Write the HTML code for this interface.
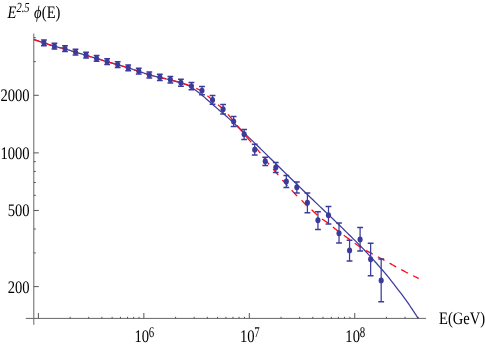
<!DOCTYPE html>
<html><head><meta charset="utf-8"><title>plot</title>
<style>html,body{margin:0;padding:0;background:#fff;}body{width:485px;height:346px;overflow:hidden;font-family:"Liberation Serif",serif;}</style>
</head><body>
<svg width="485" height="346" viewBox="0 0 485 346" style="display:block;will-change:transform">
<rect width="485" height="346" fill="#fff"/>
<g stroke="#666666" stroke-width="1.0" fill="none">
<line x1="33.8" y1="33.6" x2="33.8" y2="324.8"/>
<line x1="25.8" y1="318.4" x2="426.0" y2="318.4"/>
</g>
<g stroke="#444444" stroke-width="0.9" fill="none">
<line x1="38.40" y1="313.0" x2="38.40" y2="318.4"/>
<line x1="143.85" y1="313.0" x2="143.85" y2="318.4"/>
<line x1="249.30" y1="313.0" x2="249.30" y2="318.4"/>
<line x1="354.75" y1="313.0" x2="354.75" y2="318.4"/>
<line x1="33.8" y1="95.30" x2="38.8" y2="95.30"/>
<line x1="33.8" y1="152.89" x2="38.8" y2="152.89"/>
<line x1="33.8" y1="210.47" x2="38.8" y2="210.47"/>
<line x1="33.8" y1="286.60" x2="38.8" y2="286.60"/>
</g>
<g stroke="#444444" stroke-width="0.9" fill="none">
<line x1="70.14" y1="316.8" x2="70.14" y2="318.4"/>
<line x1="88.71" y1="316.8" x2="88.71" y2="318.4"/>
<line x1="101.89" y1="316.8" x2="101.89" y2="318.4"/>
<line x1="112.11" y1="316.8" x2="112.11" y2="318.4"/>
<line x1="120.46" y1="316.8" x2="120.46" y2="318.4"/>
<line x1="127.52" y1="316.8" x2="127.52" y2="318.4"/>
<line x1="133.63" y1="316.8" x2="133.63" y2="318.4"/>
<line x1="139.02" y1="316.8" x2="139.02" y2="318.4"/>
<line x1="175.59" y1="316.8" x2="175.59" y2="318.4"/>
<line x1="194.16" y1="316.8" x2="194.16" y2="318.4"/>
<line x1="207.34" y1="316.8" x2="207.34" y2="318.4"/>
<line x1="217.56" y1="316.8" x2="217.56" y2="318.4"/>
<line x1="225.91" y1="316.8" x2="225.91" y2="318.4"/>
<line x1="232.97" y1="316.8" x2="232.97" y2="318.4"/>
<line x1="239.08" y1="316.8" x2="239.08" y2="318.4"/>
<line x1="244.47" y1="316.8" x2="244.47" y2="318.4"/>
<line x1="281.04" y1="316.8" x2="281.04" y2="318.4"/>
<line x1="299.61" y1="316.8" x2="299.61" y2="318.4"/>
<line x1="312.79" y1="316.8" x2="312.79" y2="318.4"/>
<line x1="323.01" y1="316.8" x2="323.01" y2="318.4"/>
<line x1="331.36" y1="316.8" x2="331.36" y2="318.4"/>
<line x1="338.42" y1="316.8" x2="338.42" y2="318.4"/>
<line x1="344.53" y1="316.8" x2="344.53" y2="318.4"/>
<line x1="349.92" y1="316.8" x2="349.92" y2="318.4"/>
<line x1="386.49" y1="316.8" x2="386.49" y2="318.4"/>
<line x1="405.06" y1="316.8" x2="405.06" y2="318.4"/>
<line x1="418.24" y1="316.8" x2="418.24" y2="318.4"/>
<line x1="33.8" y1="37.71" x2="35.8" y2="37.71"/>
<line x1="33.8" y1="61.61" x2="35.8" y2="61.61"/>
<line x1="33.8" y1="161.64" x2="35.8" y2="161.64"/>
<line x1="33.8" y1="171.43" x2="35.8" y2="171.43"/>
<line x1="33.8" y1="182.52" x2="35.8" y2="182.52"/>
<line x1="33.8" y1="195.33" x2="35.8" y2="195.33"/>
<line x1="33.8" y1="229.01" x2="35.8" y2="229.01"/>
<line x1="33.8" y1="252.91" x2="35.8" y2="252.91"/>
</g>
<path d="M33.80 39.50 L34.28 39.66 L34.87 39.86 L35.56 40.09 L36.34 40.35 L37.19 40.64 L38.09 40.94 L39.02 41.25 L39.98 41.57 L40.94 41.89 L41.89 42.21 L42.82 42.51 L43.70 42.80 L44.56 43.08 L45.43 43.37 L46.30 43.66 L47.19 43.95 L48.07 44.25 L48.96 44.54 L49.85 44.83 L50.75 45.11 L51.64 45.40 L52.53 45.67 L53.42 45.94 L54.30 46.20 L55.18 46.45 L56.06 46.68 L56.93 46.91 L57.81 47.13 L58.68 47.35 L59.56 47.56 L60.43 47.78 L61.30 47.99 L62.18 48.21 L63.05 48.43 L63.93 48.66 L64.80 48.90 L65.67 49.15 L66.55 49.41 L67.42 49.67 L68.30 49.93 L69.17 50.20 L70.05 50.47 L70.92 50.75 L71.80 51.02 L72.67 51.30 L73.55 51.57 L74.42 51.84 L75.30 52.10 L76.17 52.36 L77.05 52.62 L77.92 52.88 L78.80 53.14 L79.67 53.39 L80.55 53.65 L81.42 53.91 L82.30 54.16 L83.17 54.42 L84.05 54.68 L84.92 54.94 L85.80 55.20 L86.67 55.46 L87.55 55.73 L88.42 55.99 L89.30 56.26 L90.17 56.53 L91.04 56.79 L91.92 57.06 L92.79 57.33 L93.67 57.60 L94.54 57.87 L95.42 58.13 L96.30 58.40 L97.18 58.67 L98.06 58.93 L98.95 59.20 L99.83 59.47 L100.71 59.74 L101.60 60.01 L102.49 60.27 L103.37 60.54 L104.25 60.81 L105.14 61.07 L106.02 61.34 L106.90 61.60 L107.78 61.86 L108.66 62.12 L109.53 62.38 L110.41 62.64 L111.28 62.90 L112.16 63.16 L113.03 63.41 L113.90 63.67 L114.78 63.93 L115.65 64.18 L116.53 64.44 L117.40 64.70 L118.28 64.96 L119.15 65.21 L120.03 65.47 L120.90 65.72 L121.78 65.98 L122.65 66.23 L123.53 66.49 L124.40 66.74 L125.28 67.00 L126.15 67.27 L127.03 67.53 L127.90 67.80 L128.77 68.07 L129.65 68.35 L130.52 68.63 L131.40 68.91 L132.27 69.19 L133.14 69.47 L134.02 69.76 L134.89 70.05 L135.77 70.34 L136.64 70.62 L137.52 70.91 L138.40 71.20 L139.28 71.49 L140.16 71.79 L141.05 72.08 L141.93 72.39 L142.81 72.69 L143.70 72.99 L144.59 73.29 L145.47 73.58 L146.35 73.87 L147.24 74.16 L148.12 74.43 L149.00 74.70 L149.88 74.96 L150.76 75.21 L151.63 75.46 L152.51 75.70 L153.38 75.94 L154.26 76.18 L155.13 76.40 L156.00 76.63 L156.88 76.85 L157.75 77.07 L158.63 77.29 L159.50 77.50 L160.37 77.71 L161.25 77.90 L162.12 78.09 L163.00 78.28 L163.87 78.46 L164.74 78.64 L165.62 78.82 L166.49 79.00 L167.37 79.19 L168.24 79.38 L169.12 79.59 L170.00 79.80 L170.89 80.03 L171.81 80.27 L172.74 80.52 L173.68 80.78 L174.62 81.04 L175.56 81.31 L176.48 81.57 L177.37 81.83 L178.24 82.09 L179.08 82.34 L179.86 82.58 L180.60 82.80 L181.29 83.01 L181.94 83.22 L182.55 83.41 L183.13 83.60 L183.69 83.78 L184.21 83.96 L184.72 84.14 L185.20 84.31 L185.67 84.48 L186.12 84.65 L186.56 84.83 L187.00 85.00 L187.42 85.17 L187.81 85.34 L188.19 85.51 L188.54 85.67 L188.88 85.84 L189.20 86.00 L189.51 86.16 L189.81 86.33 L190.11 86.49 L190.41 86.66 L190.70 86.83 L191.00 87.00 L191.28 87.16 L191.53 87.31 L191.75 87.45 L191.96 87.58 L192.16 87.72 L192.37 87.86 L192.59 88.01 L192.83 88.19 L193.10 88.39 L193.42 88.62 L193.78 88.89 L194.20 89.20 L194.68 89.55 L195.19 89.93 L195.75 90.34 L196.33 90.77 L196.95 91.23 L197.60 91.72 L198.27 92.23 L198.97 92.76 L199.68 93.31 L200.41 93.89 L201.15 94.48 L201.90 95.10 L202.67 95.75 L203.47 96.43 L204.31 97.15 L205.16 97.90 L206.03 98.66 L206.92 99.45 L207.82 100.25 L208.72 101.05 L209.62 101.85 L210.52 102.65 L211.42 103.43 L212.30 104.20 L213.18 104.97 L214.09 105.74 L215.00 106.52 L215.92 107.31 L216.84 108.10 L217.76 108.88 L218.66 109.66 L219.56 110.42 L220.44 111.17 L221.29 111.90 L222.11 112.62 L222.90 113.30 L223.60 113.90 L224.16 114.38 L224.64 114.78 L225.07 115.13 L225.47 115.47 L225.89 115.82 L226.37 116.23 L226.93 116.73 L227.62 117.35 L228.47 118.13 L229.52 119.10 L230.80 120.30 L232.33 121.74 L234.08 123.39 L236.02 125.22 L238.11 127.21 L240.34 129.32 L242.65 131.53 L245.03 133.79 L247.43 136.09 L249.83 138.39 L252.20 140.66 L254.50 142.87 L256.70 145.00 L258.82 147.06 L260.91 149.09 L262.98 151.12 L265.04 153.13 L267.09 155.15 L269.15 157.18 L271.23 159.23 L273.33 161.30 L275.47 163.41 L277.65 165.55 L279.89 167.75 L282.20 170.00 L284.59 172.33 L287.06 174.73 L289.59 177.20 L292.18 179.72 L294.81 182.27 L297.45 184.84 L300.10 187.41 L302.74 189.97 L305.36 192.50 L307.93 195.00 L310.45 197.43 L312.90 199.80 L315.29 202.11 L317.66 204.37 L319.99 206.61 L322.30 208.81 L324.59 210.99 L326.85 213.15 L329.09 215.29 L331.31 217.41 L333.51 219.52 L335.69 221.61 L337.85 223.71 L340.00 225.80 L342.15 227.90 L344.30 230.00 L346.44 232.10 L348.57 234.20 L350.69 236.28 L352.77 238.34 L354.83 240.38 L356.84 242.39 L358.80 244.36 L360.70 246.29 L362.54 248.17 L364.30 250.00 L366.01 251.79 L367.67 253.57 L369.30 255.32 L370.88 257.05 L372.41 258.74 L373.88 260.38 L375.30 261.97 L376.66 263.51 L377.95 264.97 L379.17 266.37 L380.32 267.68 L381.40 268.90 L382.37 270.00 L383.22 270.97 L383.97 271.84 L384.63 272.61 L385.23 273.32 L385.79 273.98 L386.31 274.62 L386.83 275.26 L387.36 275.91 L387.92 276.60 L388.53 277.36 L389.20 278.20 L389.93 279.11 L390.69 280.08 L391.48 281.08 L392.28 282.10 L393.09 283.15 L393.91 284.21 L394.72 285.26 L395.52 286.31 L396.31 287.33 L397.07 288.33 L397.80 289.29 L398.50 290.20 L399.16 291.06 L399.79 291.90 L400.41 292.70 L401.00 293.47 L401.57 294.23 L402.13 294.97 L402.68 295.71 L403.23 296.44 L403.77 297.17 L404.31 297.90 L404.85 298.64 L405.40 299.40 L405.95 300.17 L406.50 300.93 L407.04 301.69 L407.57 302.45 L408.11 303.21 L408.64 303.97 L409.17 304.73 L409.69 305.50 L410.22 306.26 L410.74 307.04 L411.27 307.82 L411.80 308.60 L412.35 309.42 L412.93 310.30 L413.53 311.22 L414.14 312.16 L414.75 313.10 L415.35 314.03 L415.93 314.92 L416.47 315.77 L416.97 316.55 L417.42 317.24 L417.80 317.83 L418.10 318.30" fill="none" stroke="#3b3b9c" stroke-width="1.25" stroke-linejoin="round"/>
<g fill="none" stroke="#fb0c18" stroke-width="1.3">
<path d="M33.90 39.53 L34.28 39.66 L34.87 39.86 L35.56 40.09 L36.34 40.35 L37.19 40.64 L38.09 40.94 L39.02 41.25 L39.98 41.57 L40.92 41.88"/>
<path d="M46.31 43.66 L47.19 43.95 L48.07 44.25 L48.96 44.54 L49.85 44.83 L50.75 45.11 L51.64 45.40 L52.53 45.67 L53.36 45.92"/>
<path d="M58.81 47.38 L59.56 47.56 L60.43 47.78 L61.30 47.99 L62.18 48.21 L63.05 48.43 L63.93 48.66 L64.80 48.90 L65.67 49.15 L65.94 49.23"/>
<path d="M71.36 50.88 L71.80 51.02 L72.67 51.30 L73.55 51.57 L74.42 51.84 L75.30 52.10 L76.17 52.36 L77.05 52.62 L77.92 52.88 L78.43 53.03"/>
<path d="M83.86 54.62 L84.05 54.68 L84.92 54.94 L85.80 55.20 L86.67 55.46 L87.55 55.73 L88.42 55.99 L89.30 56.26 L90.17 56.53 L90.93 56.76"/>
<path d="M96.35 58.41 L97.18 58.67 L98.06 58.93 L98.95 59.20 L99.83 59.47 L100.71 59.74 L101.60 60.01 L102.49 60.27 L103.37 60.54 L103.42 60.56"/>
<path d="M108.85 62.18 L109.53 62.38 L110.41 62.64 L111.28 62.90 L112.16 63.16 L113.03 63.41 L113.90 63.67 L114.78 63.93 L115.65 64.18 L115.93 64.27"/>
<path d="M121.36 65.86 L121.78 65.98 L122.65 66.23 L123.53 66.49 L124.40 66.74 L125.28 67.00 L126.15 67.27 L127.03 67.53 L127.90 67.80 L128.44 67.97"/>
<path d="M133.84 69.70 L134.02 69.76 L134.89 70.05 L135.77 70.34 L136.64 70.62 L137.52 70.91 L138.40 71.20 L139.28 71.49 L140.16 71.79 L140.87 72.03"/>
<path d="M146.25 73.85 L146.35 73.89 L147.24 74.17 L148.12 74.44 L149.00 74.70 L149.88 74.95 L150.76 75.19 L151.63 75.42 L152.51 75.64 L153.35 75.85"/>
<path d="M158.83 77.14 L159.50 77.30 L160.37 77.51 L161.25 77.70 L162.12 77.90 L163.00 78.09 L163.87 78.28 L164.74 78.47 L165.62 78.67 L166.01 78.75"/>
<path d="M171.48 80.09 L171.76 80.16 L172.64 80.40 L173.53 80.64 L174.41 80.89 L175.29 81.14 L176.18 81.39 L177.06 81.65 L177.95 81.91 L178.58 82.10"/>
<path d="M184.00 83.74 L184.30 83.83 L185.24 84.12 L186.17 84.41 L187.10 84.71 L187.99 85.00 L188.86 85.28 L189.69 85.56 L190.47 85.84 L191.04 86.04"/>
<path d="M196.28 88.35 L196.52 88.46 L196.96 88.68 L197.40 88.90 L197.82 89.09 L198.18 89.25 L198.51 89.38 L198.81 89.50 L199.10 89.61 L199.39 89.74 L199.69 89.88 L200.03 90.06 L200.40 90.27 L200.83 90.55 L201.32 90.88 L201.90 91.30 L202.56 91.80 L202.86 92.03"/>
<path d="M207.46 95.81 L207.65 95.97 L208.60 96.77 L209.55 97.57 L210.49 98.37 L211.41 99.15 L212.30 99.90 L213.19 100.65 L213.41 100.84"/>
<path d="M217.97 104.69 L218.87 105.45 L219.77 106.23 L220.64 106.98 L221.46 107.70 L222.21 108.37 L222.90 109.00 L223.51 109.57 L223.83 109.87"/>
<path d="M227.95 114.36 L228.34 114.81 L228.77 115.30 L229.19 115.80 L229.60 116.30 L230.03 116.81 L230.46 117.34 L230.92 117.90 L231.40 118.49 L231.91 119.12 L232.46 119.79 L233.05 120.52 L233.08 120.54"/>
<path d="M236.99 125.30 L237.54 125.97 L238.40 127.02 L239.29 128.10 L240.21 129.22 L241.15 130.36 L242.10 131.50"/>
<path d="M246.05 136.21 L246.26 136.45 L247.42 137.82 L248.61 139.22 L249.84 140.65 L251.07 142.09 L251.25 142.30"/>
<path d="M255.22 146.98 L255.82 147.70 L256.90 148.98 L257.90 150.20 L258.83 151.34 L259.69 152.43 L260.31 153.21"/>
<path d="M264.07 158.13 L264.15 158.23 L264.87 159.16 L265.61 160.12 L266.38 161.09 L267.20 162.10 L268.07 163.15 L268.98 164.24 L269.12 164.41"/>
<path d="M273.09 169.08 L273.80 169.91 L274.75 171.01 L275.66 172.07 L276.53 173.07 L277.35 174.02 L278.10 174.90 L278.32 175.15"/>
<path d="M282.31 179.81 L282.40 179.92 L282.87 180.45 L283.35 181.01 L283.86 181.58 L284.40 182.20 L284.98 182.85 L285.57 183.52 L286.19 184.21 L286.81 184.91 L287.45 185.62 L287.60 185.79"/>
<path d="M291.70 190.31 L292.09 190.74 L292.56 191.24 L293.00 191.72 L293.43 192.18 L293.83 192.62 L294.23 193.04 L294.62 193.46 L295.01 193.86 L295.39 194.27 L295.79 194.67 L296.19 195.08 L296.60 195.50 L297.02 195.92 L297.17 196.07"/>
<path d="M301.53 200.23 L301.70 200.40 L302.08 200.79 L302.45 201.17 L302.80 201.55 L303.15 201.92 L303.49 202.29 L303.82 202.66 L304.16 203.02 L304.51 203.39 L304.86 203.76 L305.22 204.14 L305.60 204.52 L306.00 204.90 L306.42 205.29 L306.86 205.69 L307.07 205.88"/>
<path d="M311.59 209.79 L311.92 210.08 L312.33 210.46 L312.73 210.84 L313.11 211.21 L313.50 211.58 L313.88 211.95 L314.26 212.32 L314.65 212.69 L315.05 213.06 L315.45 213.44 L315.87 213.82 L316.30 214.20 L316.75 214.59 L317.21 214.99 L317.35 215.12"/>
<path d="M321.96 218.89 L322.10 219.00 L322.58 219.36 L323.05 219.68 L323.51 219.99 L323.96 220.29 L324.41 220.58 L324.88 220.88 L325.35 221.18 L325.84 221.50 L326.36 221.85 L326.90 222.22 L327.48 222.64 L328.10 223.10 L328.28 223.24"/>
<path d="M332.89 226.99 L333.26 227.30 L334.08 227.98 L334.92 228.66 L335.77 229.35 L336.63 230.03 L337.50 230.70 L338.39 231.37 L338.97 231.80"/>
<path d="M343.73 235.27 L344.11 235.55 L345.11 236.26 L346.11 236.97 L347.11 237.68 L348.11 238.39 L349.10 239.10 L350.00 239.74"/>
<path d="M354.77 243.21 L355.20 243.52 L356.23 244.26 L357.26 244.98 L358.28 245.69 L359.29 246.39 L360.30 247.06 L361.08 247.56"/>
<path d="M366.09 250.52 L366.18 250.57 L367.14 251.10 L368.10 251.62 L369.06 252.13 L370.01 252.65 L370.97 253.16 L371.94 253.68 L372.74 254.11"/>
<path d="M377.83 256.84 L378.69 257.30 L379.66 257.81 L380.63 258.32 L381.59 258.84 L382.56 259.35 L383.53 259.87 L384.49 260.40"/>
<path d="M389.56 263.21 L390.34 263.64 L391.31 264.19 L392.29 264.74 L393.27 265.28 L394.24 265.82 L395.22 266.36 L396.17 266.89"/>
<path d="M401.26 269.64 L402.16 270.12 L403.15 270.66 L404.14 271.18 L405.12 271.70 L406.09 272.21 L407.05 272.71 L407.93 273.17"/>
<path d="M413.09 275.73 L413.12 275.75 L414.14 276.24 L415.12 276.72 L416.04 277.16 L416.88 277.57 L417.64 277.93 L418.28 278.25 L418.80 278.50"/>
</g>
<g stroke="#3b3b9c" stroke-width="1.3" fill="#3b3b9c">
<path d="M43.90 39.90V45.70" fill="none" stroke-width="1.25"/>
<path d="M41.00 39.90H46.80M41.00 45.70H46.80" fill="none" stroke-width="1.5"/>
<ellipse cx="43.90" cy="42.80" rx="2.55" ry="2.95" stroke="none"/>
<path d="M54.44 43.30V49.10" fill="none" stroke-width="1.25"/>
<path d="M51.54 43.30H57.34M51.54 49.10H57.34" fill="none" stroke-width="1.5"/>
<ellipse cx="54.44" cy="46.20" rx="2.55" ry="2.95" stroke="none"/>
<path d="M64.98 45.70V51.50" fill="none" stroke-width="1.25"/>
<path d="M62.08 45.70H67.88M62.08 51.50H67.88" fill="none" stroke-width="1.5"/>
<ellipse cx="64.98" cy="48.60" rx="2.55" ry="2.95" stroke="none"/>
<path d="M75.52 49.20V55.00" fill="none" stroke-width="1.25"/>
<path d="M72.62 49.20H78.42M72.62 55.00H78.42" fill="none" stroke-width="1.5"/>
<ellipse cx="75.52" cy="52.10" rx="2.55" ry="2.95" stroke="none"/>
<path d="M86.06 52.30V58.10" fill="none" stroke-width="1.25"/>
<path d="M83.16 52.30H88.96M83.16 58.10H88.96" fill="none" stroke-width="1.5"/>
<ellipse cx="86.06" cy="55.20" rx="2.55" ry="2.95" stroke="none"/>
<path d="M96.60 55.50V61.30" fill="none" stroke-width="1.25"/>
<path d="M93.70 55.50H99.50M93.70 61.30H99.50" fill="none" stroke-width="1.5"/>
<ellipse cx="96.60" cy="58.40" rx="2.55" ry="2.95" stroke="none"/>
<path d="M107.14 58.70V64.50" fill="none" stroke-width="1.25"/>
<path d="M104.24 58.70H110.04M104.24 64.50H110.04" fill="none" stroke-width="1.5"/>
<ellipse cx="107.14" cy="61.60" rx="2.55" ry="2.95" stroke="none"/>
<path d="M117.68 61.70V67.50" fill="none" stroke-width="1.25"/>
<path d="M114.78 61.70H120.58M114.78 67.50H120.58" fill="none" stroke-width="1.5"/>
<ellipse cx="117.68" cy="64.60" rx="2.55" ry="2.95" stroke="none"/>
<path d="M128.22 64.90V70.70" fill="none" stroke-width="1.25"/>
<path d="M125.32 64.90H131.12M125.32 70.70H131.12" fill="none" stroke-width="1.5"/>
<ellipse cx="128.22" cy="67.80" rx="2.55" ry="2.95" stroke="none"/>
<path d="M138.76 68.20V74.00" fill="none" stroke-width="1.25"/>
<path d="M135.86 68.20H141.66M135.86 74.00H141.66" fill="none" stroke-width="1.5"/>
<ellipse cx="138.76" cy="71.10" rx="2.55" ry="2.95" stroke="none"/>
<path d="M149.30 71.90V77.90" fill="none" stroke-width="1.25"/>
<path d="M146.40 71.90H152.20M146.40 77.90H152.20" fill="none" stroke-width="1.5"/>
<ellipse cx="149.30" cy="74.90" rx="2.55" ry="2.95" stroke="none"/>
<path d="M159.84 74.20V80.40" fill="none" stroke-width="1.25"/>
<path d="M156.94 74.20H162.74M156.94 80.40H162.74" fill="none" stroke-width="1.5"/>
<ellipse cx="159.84" cy="77.30" rx="2.55" ry="2.95" stroke="none"/>
<path d="M170.38 76.40V83.00" fill="none" stroke-width="1.25"/>
<path d="M167.48 76.40H173.28M167.48 83.00H173.28" fill="none" stroke-width="1.5"/>
<ellipse cx="170.38" cy="79.70" rx="2.55" ry="2.95" stroke="none"/>
<path d="M180.92 79.30V86.30" fill="none" stroke-width="1.25"/>
<path d="M178.02 79.30H183.82M178.02 86.30H183.82" fill="none" stroke-width="1.5"/>
<ellipse cx="180.92" cy="82.80" rx="2.55" ry="2.95" stroke="none"/>
<path d="M191.46 82.60V89.70" fill="none" stroke-width="1.25"/>
<path d="M188.56 82.60H194.36M188.56 89.70H194.36" fill="none" stroke-width="1.5"/>
<ellipse cx="191.46" cy="86.10" rx="2.55" ry="2.95" stroke="none"/>
<path d="M202.00 86.40V94.80" fill="none" stroke-width="1.25"/>
<path d="M199.10 86.40H204.90M199.10 94.80H204.90" fill="none" stroke-width="1.5"/>
<ellipse cx="202.00" cy="90.60" rx="2.55" ry="2.95" stroke="none"/>
<path d="M212.54 95.60V104.30" fill="none" stroke-width="1.25"/>
<path d="M209.64 95.60H215.44M209.64 104.30H215.44" fill="none" stroke-width="1.5"/>
<ellipse cx="212.54" cy="99.90" rx="2.55" ry="2.95" stroke="none"/>
<path d="M223.08 104.60V114.00" fill="none" stroke-width="1.25"/>
<path d="M220.18 104.60H225.98M220.18 114.00H225.98" fill="none" stroke-width="1.5"/>
<ellipse cx="223.08" cy="109.30" rx="2.55" ry="2.95" stroke="none"/>
<path d="M233.62 116.40V126.40" fill="none" stroke-width="1.25"/>
<path d="M230.72 116.40H236.52M230.72 126.40H236.52" fill="none" stroke-width="1.5"/>
<ellipse cx="233.62" cy="121.40" rx="2.55" ry="2.95" stroke="none"/>
<path d="M244.16 129.50V139.40" fill="none" stroke-width="1.25"/>
<path d="M241.26 129.50H247.06M241.26 139.40H247.06" fill="none" stroke-width="1.5"/>
<ellipse cx="244.16" cy="134.30" rx="2.55" ry="2.95" stroke="none"/>
<path d="M254.70 144.30V155.10" fill="none" stroke-width="1.25"/>
<path d="M251.80 144.30H257.60M251.80 155.10H257.60" fill="none" stroke-width="1.5"/>
<ellipse cx="254.70" cy="149.80" rx="2.55" ry="2.95" stroke="none"/>
<path d="M265.24 157.30V165.40" fill="none" stroke-width="1.25"/>
<path d="M262.34 157.30H268.14M262.34 165.40H268.14" fill="none" stroke-width="1.5"/>
<ellipse cx="265.24" cy="161.30" rx="2.55" ry="2.95" stroke="none"/>
<path d="M275.78 162.50V172.60" fill="none" stroke-width="1.25"/>
<path d="M272.88 162.50H278.68M272.88 172.60H278.68" fill="none" stroke-width="1.5"/>
<ellipse cx="275.78" cy="167.40" rx="2.55" ry="2.95" stroke="none"/>
<path d="M286.32 175.50V187.50" fill="none" stroke-width="1.25"/>
<path d="M283.42 175.50H289.22M283.42 187.50H289.22" fill="none" stroke-width="1.5"/>
<ellipse cx="286.32" cy="181.50" rx="2.55" ry="2.95" stroke="none"/>
<path d="M296.86 181.90V193.10" fill="none" stroke-width="1.25"/>
<path d="M293.96 181.90H299.76M293.96 193.10H299.76" fill="none" stroke-width="1.5"/>
<ellipse cx="296.86" cy="187.30" rx="2.55" ry="2.95" stroke="none"/>
<path d="M307.40 193.10V212.70" fill="none" stroke-width="1.25"/>
<path d="M304.50 193.10H310.30M304.50 212.70H310.30" fill="none" stroke-width="1.5"/>
<ellipse cx="307.40" cy="202.70" rx="2.55" ry="2.95" stroke="none"/>
<path d="M317.94 211.70V229.40" fill="none" stroke-width="1.25"/>
<path d="M315.04 211.70H320.84M315.04 229.40H320.84" fill="none" stroke-width="1.5"/>
<ellipse cx="317.94" cy="220.20" rx="2.55" ry="2.95" stroke="none"/>
<path d="M328.48 206.60V223.90" fill="none" stroke-width="1.25"/>
<path d="M325.58 206.60H331.38M325.58 223.90H331.38" fill="none" stroke-width="1.5"/>
<ellipse cx="328.48" cy="215.20" rx="2.55" ry="2.95" stroke="none"/>
<path d="M339.02 222.90V243.10" fill="none" stroke-width="1.25"/>
<path d="M336.12 222.90H341.92M336.12 243.10H341.92" fill="none" stroke-width="1.5"/>
<ellipse cx="339.02" cy="233.20" rx="2.55" ry="2.95" stroke="none"/>
<path d="M349.56 240.20V261.10" fill="none" stroke-width="1.25"/>
<path d="M346.66 240.20H352.46M346.66 261.10H352.46" fill="none" stroke-width="1.5"/>
<ellipse cx="349.56" cy="250.40" rx="2.55" ry="2.95" stroke="none"/>
<path d="M360.10 227.40V250.90" fill="none" stroke-width="1.25"/>
<path d="M357.20 227.40H363.00M357.20 250.90H363.00" fill="none" stroke-width="1.5"/>
<ellipse cx="360.10" cy="239.40" rx="2.55" ry="2.95" stroke="none"/>
<path d="M370.64 243.20V275.70" fill="none" stroke-width="1.25"/>
<path d="M367.74 243.20H373.54M367.74 275.70H373.54" fill="none" stroke-width="1.5"/>
<ellipse cx="370.64" cy="259.30" rx="2.55" ry="2.95" stroke="none"/>
<path d="M381.18 258.90V301.70" fill="none" stroke-width="1.25"/>
<path d="M378.28 258.90H384.08M378.28 301.70H384.08" fill="none" stroke-width="1.5"/>
<ellipse cx="381.18" cy="280.40" rx="2.55" ry="2.95" stroke="none"/>
</g>
<g font-family="Liberation Serif, serif" fill="#000" text-rendering="geometricPrecision">
<text transform="translate(29.6,101.3) scale(1,1.21)" font-size="14.6" text-anchor="end" >2000</text>
<text transform="translate(29.6,158.88703817051962) scale(1,1.21)" font-size="14.6" text-anchor="end" >1000</text>
<text transform="translate(29.6,216.47407634103922) scale(1,1.21)" font-size="14.6" text-anchor="end" >500</text>
<text transform="translate(29.6,292.6) scale(1,1.21)" font-size="14.6" text-anchor="end" >200</text>
<text transform="translate(134.45,342.3) scale(1,1.21)" font-size="14.6" text-anchor="start" >10</text>
<text transform="translate(148.75,337.0) scale(1,1.36)" font-size="10.9" text-anchor="start" >6</text>
<text transform="translate(239.9,342.3) scale(1,1.21)" font-size="14.6" text-anchor="start" >10</text>
<text transform="translate(254.20000000000002,337.0) scale(1,1.36)" font-size="10.9" text-anchor="start" >7</text>
<text transform="translate(345.35,342.3) scale(1,1.21)" font-size="14.6" text-anchor="start" >10</text>
<text transform="translate(359.65,337.0) scale(1,1.36)" font-size="10.9" text-anchor="start" >8</text>
<text transform="translate(439.0,324.4) scale(1,1.2)" font-size="14.6" text-anchor="start" >E(GeV)</text>
<text transform="translate(7.6,18.4) scale(1,1.2)" font-size="14.6" text-anchor="start" font-style="italic">E</text>
<text transform="translate(16.4,11.9) scale(1,1.32)" font-size="10.5" text-anchor="start" font-style="italic">2.5</text>
<text transform="translate(33.9,18.4) scale(1,1.2)" font-size="14.6" text-anchor="start" font-style="italic">ϕ</text>
<text transform="translate(41.8,18.4) scale(1,1.2)" font-size="14.6" text-anchor="start" >(E)</text>
</g>
</svg>
</body></html>
